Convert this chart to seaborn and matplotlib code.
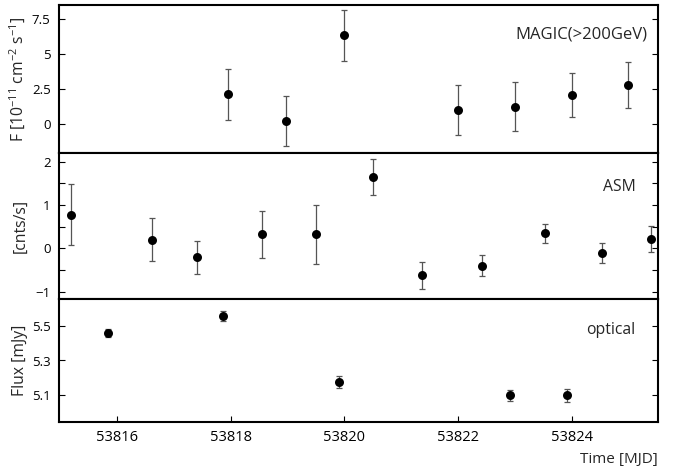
import numpy as np
import pandas as pd
import matplotlib
matplotlib.use("Agg")
import matplotlib.pyplot as plt
from matplotlib.ticker import MultipleLocator, FixedLocator
import seaborn as sns

# MAGIC (>200 GeV)
magic_t = [53817.95, 53818.98, 53820.0, 53822.0, 53823.0, 53824.0, 53825.0]
magic_f = [2.09, 0.19, 6.33, 0.95, 1.21, 2.04, 2.76]
magic_e = [1.82, 1.80, 1.83, 1.79, 1.76, 1.60, 1.66]

# ASM
asm_t = [53815.19, 53816.61, 53817.40, 53818.55, 53819.51, 53820.50,
         53821.36, 53822.43, 53823.53, 53824.54, 53825.40]
asm_f = [0.78, 0.20, -0.21, 0.32, 0.32, 1.64, -0.62, -0.40, 0.35, -0.11, 0.21]
asm_e = [0.71, 0.50, 0.39, 0.55, 0.68, 0.42, 0.31, 0.25, 0.22, 0.23, 0.30]

# optical
opt_t = [53815.85, 53817.87, 53819.91, 53822.92, 53823.91]
opt_f = [5.458, 5.558, 5.175, 5.098, 5.098]
opt_e = [0.022, 0.030, 0.033, 0.033, 0.038]

x_ticks = [53816, 53818, 53820, 53822, 53824]

sns.set_theme(style="ticks")
plt.rcParams['font.family'] = ['Open Sans', 'DejaVu Sans']
plt.rcParams['mathtext.fontset'] = 'custom'
plt.rcParams['mathtext.rm'] = 'Open Sans'
plt.rcParams['mathtext.it'] = 'Open Sans'

fig, axes = plt.subplots(3, 1, sharex=True, figsize=(6.75, 4.66), dpi=100,
                         gridspec_kw=dict(height_ratios=[148, 146, 123], hspace=0))
fig.subplots_adjust(left=59/675, right=658/675, top=1-5/466, bottom=1-422/466)

datasets = [
    (magic_t, magic_f, magic_e, "MAGIC(>200GeV)", r"F [10$^{-11}$ cm$^{-2}$ s$^{-1}$]", (-2.12, 8.52), 0.982, 0.80, 12),
    (asm_t, asm_f, asm_e, "ASM", "[cnts/s]", (-1.17, 2.2), 0.963, 0.765, 11.3),
    (opt_t, opt_f, opt_e, "optical", "Flux [mJy]", (4.943, 5.657), 0.962, 0.75, 11.3),
]

for ax, (t, f, e, name, ylab, ylim, tx, ty, tfs) in zip(axes, datasets):
    df = pd.DataFrame({"t": t, "f": f, "e": e})
    ax.errorbar(df["t"], df["f"], yerr=df["e"], fmt='none', ecolor='#555555',
                elinewidth=0.9, capsize=2.5, capthick=0.9, zorder=2)
    sns.scatterplot(data=df, x="t", y="f", ax=ax, color='black', s=42,
                    edgecolor='black', linewidth=0, zorder=3, legend=False)
    ax.set_ylim(*ylim)
    ax.set_xlim(53814.98, 53825.52)
    ax.set_ylabel(ylab, fontsize=11.3)
    ax.yaxis.set_label_coords(-0.051, 0.5)
    ax.set_xlabel("")
    ax.text(tx, ty, name, transform=ax.transAxes, ha='right', va='center', fontsize=tfs)
    for s in ax.spines.values():
        s.set_linewidth(1.5)
        s.set_color('black')
        s.set_visible(True)
    ax.tick_params(axis='y', which='both', direction='in', length=4.3, width=0.8,
                   left=True, right=True, labelsize=9.5, pad=6, colors='black')
    ax.tick_params(axis='x', which='both', direction='in', length=4.3, width=0.8,
                   bottom=(ax is axes[-1]), top=False, labelsize=10.5, pad=6, colors='black')

axes[0].yaxis.set_major_locator(FixedLocator([0, 2.5, 5, 7.5]))
axes[0].set_yticklabels(["0", "2.5", "5", "7.5"])
axes[1].yaxis.set_major_locator(FixedLocator([-1, 0, 1, 2]))
axes[1].yaxis.set_minor_locator(MultipleLocator(0.5))
axes[1].tick_params(axis='y', which='minor', length=4.3)
axes[2].yaxis.set_major_locator(FixedLocator([5.1, 5.3, 5.5]))
axes[2].set_yticklabels(["5.1", "5.3", "5.5"])

axes[2].xaxis.set_major_locator(FixedLocator(x_ticks))
axes[2].set_xticklabels([str(v) for v in x_ticks])
axes[2].set_xlabel("Time [MJD]", fontsize=11)
axes[2].xaxis.set_label_coords(1.0, -0.244)
axes[2].xaxis.label.set_ha('right')
axes[2].xaxis.label.set_va('top')

fig.savefig("out.png", dpi=100)
